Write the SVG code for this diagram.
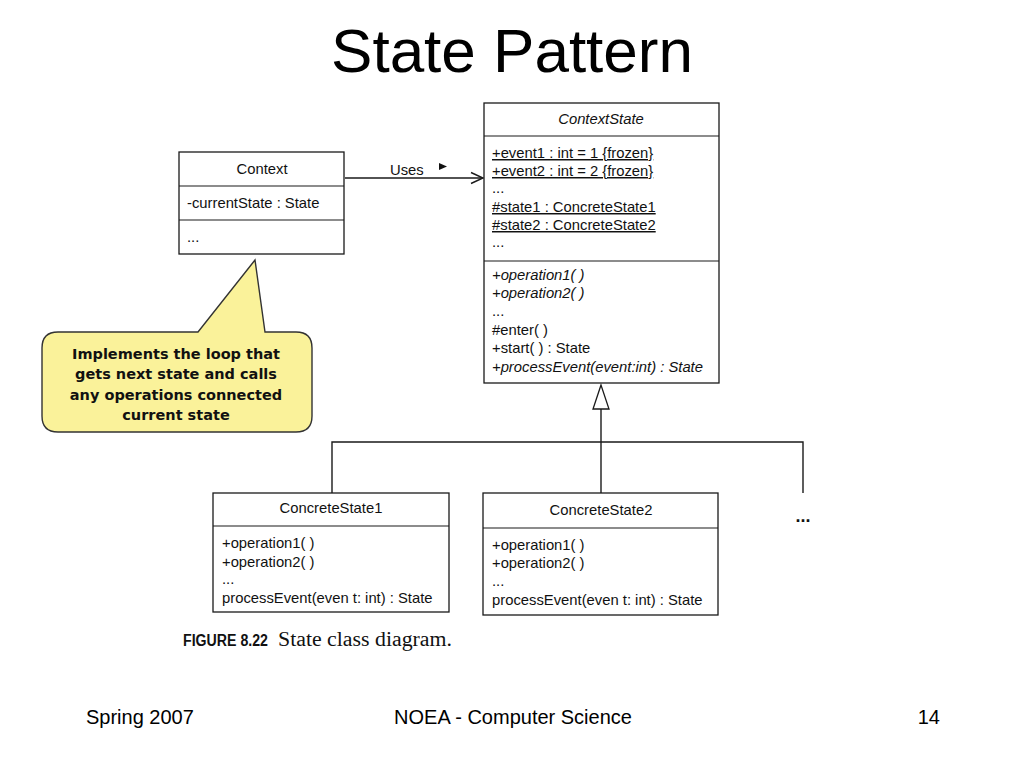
<svg xmlns="http://www.w3.org/2000/svg" width="1024" height="768" viewBox="0 0 1024 768">
<style>
.box{fill:#fff;stroke:#1a1a1a;stroke-width:1.3}
.div{stroke:#1a1a1a;stroke-width:1.2}
.t{font-family:"Liberation Sans",Arial,sans-serif;font-size:14.8px;fill:#111}
.c{text-anchor:middle}
.i{font-style:italic}
.u{text-decoration:underline}
.ln{fill:none;stroke:#1a1a1a;stroke-width:1.4}
.note{font-family:"Comic Sans MS","DejaVu Sans",sans-serif;font-weight:bold;font-size:14.5px;fill:#111;text-anchor:middle}
.foot{font-family:"Liberation Sans",Arial,sans-serif;font-size:20px;fill:#000}
</style>
<rect width="1024" height="768" fill="#fff"/>
<text x="512" y="72" text-anchor="middle" font-family="Liberation Sans,Arial,sans-serif" font-size="62" fill="#000">State Pattern</text>

<g id="connectors">
  <line class="ln" x1="345" y1="178" x2="482" y2="178"/>
  <path class="ln" d="M471,172.5 L483,178 L471,183.5"/>
  <text class="t" x="390" y="175">Uses</text>
  <polygon points="439,163 447,166.5 439,170" fill="#111"/>
  <polygon points="601,385 593,409 609,409" fill="#fff" stroke="#1a1a1a" stroke-width="1.3"/>
  <line class="ln" x1="601" y1="409" x2="601" y2="493"/>
  <polyline class="ln" points="332,493 332,442 803,442 803,493"/>
</g>

<g id="Context">
  <rect class="box" x="179" y="152" width="165" height="102"/>
  <line class="div" x1="179" y1="186" x2="344" y2="186"/>
  <line class="div" x1="179" y1="220" x2="344" y2="220"/>
  <text class="t c" x="262" y="174">Context</text>
  <text class="t" x="187" y="208">-currentState : State</text>
  <text class="t" x="187" y="242">...</text>
</g>

<g id="ContextState">
  <rect class="box" x="484" y="103" width="235" height="280"/>
  <line class="div" x1="484" y1="136" x2="719" y2="136"/>
  <line class="div" x1="484" y1="261" x2="719" y2="261"/>
  <text class="t c i" x="601" y="124">ContextState</text>
  <text class="t u" x="492" y="158">+event1 : int = 1 {frozen}</text>
  <text class="t u" x="492" y="176">+event2 : int = 2 {frozen}</text>
  <text class="t" x="492" y="193">...</text>
  <text class="t u" x="492" y="212">#state1 : ConcreteState1</text>
  <text class="t u" x="492" y="230">#state2 : ConcreteState2</text>
  <text class="t" x="492" y="247">...</text>
  <text class="t i" x="492" y="280">+operation1( )</text>
  <text class="t i" x="492" y="298">+operation2( )</text>
  <text class="t" x="492" y="316">...</text>
  <text class="t" x="492" y="335">#enter( )</text>
  <text class="t" x="492" y="353">+start( ) : State</text>
  <text class="t i" x="492" y="372">+processEvent(event:int) : State</text>
</g>

<g id="note">
  <path d="M58,332 L198,332 L255,260 L265,332 L296,332 Q312,332 312,348 L312,416 Q312,432 296,432 L58,432 Q42,432 42,416 L42,348 Q42,332 58,332 Z" fill="#FAF29A" stroke="#333" stroke-width="1.4"/>
  <text class="note" x="176" y="359">Implements the loop that</text>
  <text class="note" x="176" y="379">gets next state and calls</text>
  <text class="note" x="176" y="400">any operations connected</text>
  <text class="note" x="176" y="420">current state</text>
</g>

<g id="ConcreteState1">
  <rect class="box" x="213" y="493" width="236" height="119"/>
  <line class="div" x1="213" y1="526" x2="449" y2="526"/>
  <text class="t c" x="331" y="513">ConcreteState1</text>
  <text class="t" x="222" y="548">+operation1( )</text>
  <text class="t" x="222" y="567">+operation2( )</text>
  <text class="t" x="222" y="584">...</text>
  <text class="t" x="222" y="603">processEvent(even t: int) : State</text>
</g>

<g id="ConcreteState2">
  <rect class="box" x="483" y="493" width="235" height="122"/>
  <line class="div" x1="483" y1="528" x2="718" y2="528"/>
  <text class="t c" x="601" y="515">ConcreteState2</text>
  <text class="t" x="492" y="550">+operation1( )</text>
  <text class="t" x="492" y="568">+operation2( )</text>
  <text class="t" x="492" y="586">...</text>
  <text class="t" x="492" y="605">processEvent(even t: int) : State</text>
</g>

<g id="more">
  <text x="803" y="522" text-anchor="middle" font-family="Liberation Sans,Arial,sans-serif" font-weight="bold" font-size="18" fill="#111">...</text>
</g>

<g id="caption">
  <text x="183" y="646" font-family="Liberation Sans,Arial,sans-serif" font-weight="bold" font-size="16" textLength="85" lengthAdjust="spacingAndGlyphs" fill="#111">FIGURE 8.22</text>
  <text x="278" y="646" font-family="Liberation Serif,Times New Roman,serif" font-size="20" textLength="174" lengthAdjust="spacingAndGlyphs" fill="#111">State class diagram.</text>
</g>

<g id="footer">
  <text class="foot" x="86" y="724">Spring 2007</text>
  <text class="foot" x="513" y="724" text-anchor="middle">NOEA - Computer Science</text>
  <text class="foot" x="940" y="724" text-anchor="end">14</text>
</g>
</svg>
